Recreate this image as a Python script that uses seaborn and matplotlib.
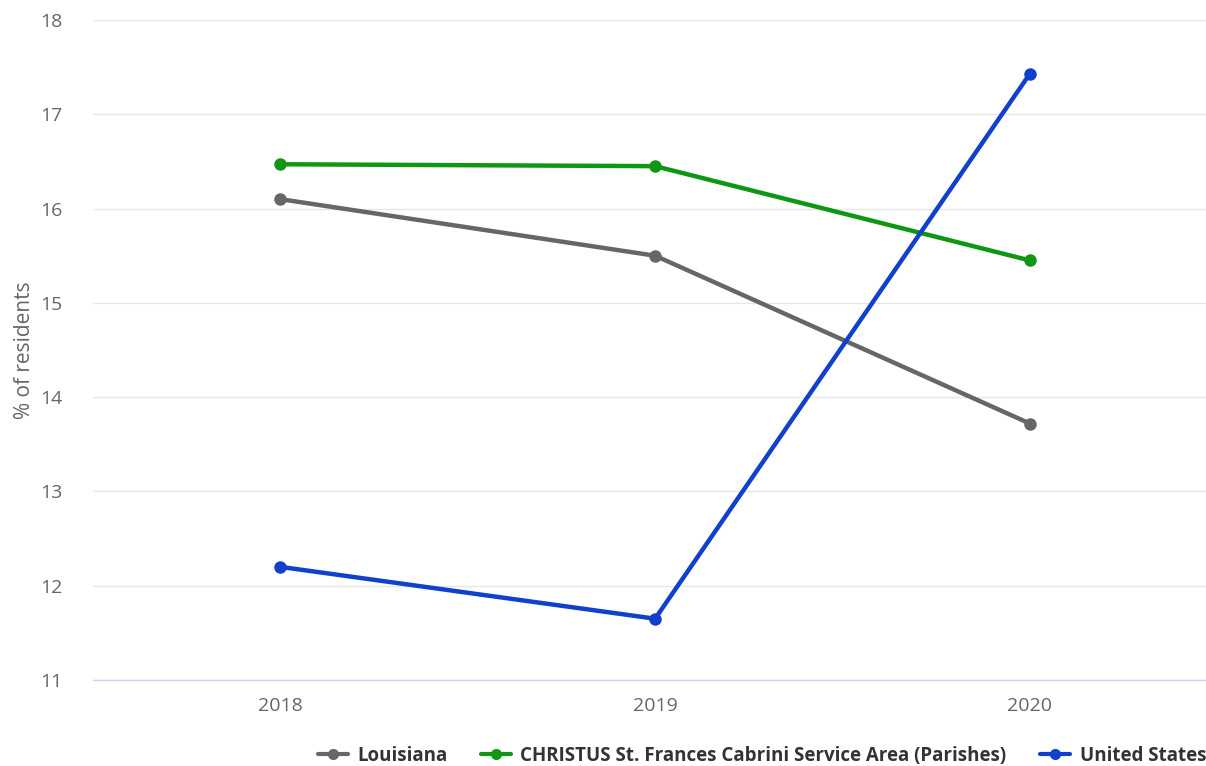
import matplotlib.pyplot as plt
import pandas as pd
import seaborn as sns

# values
years = ["2018", "2019", "2020"]
louisiana = [16.1, 15.5, 13.72]
christus = [16.47, 16.45, 15.45]
united_states = [12.2, 11.65, 17.43]

series_names = ["Louisiana", "CHRISTUS St. Frances Cabrini Service Area (Parishes)", "United States"]
colors = ["#666666", "#0f9614", "#1040cc"]

rows = []
for name, vals in zip(series_names, [louisiana, christus, united_states]):
    for i, v in enumerate(vals):
        rows.append({"pos": i, "year": years[i], "value": v, "series": name})
df = pd.DataFrame(rows)

sns.set_style("white")
plt.rcParams["font.family"] = ["Open Sans", "DejaVu Sans"]

fig = plt.figure(figsize=(12.06, 7.66), dpi=100)
ax = fig.add_axes([93 / 1206, 1 - 680 / 766, 1 - 93 / 1206, 660 / 766])

sns.lineplot(data=df, x="pos", y="value", hue="series", hue_order=series_names,
             palette=colors, marker="o", markersize=9, markeredgewidth=0,
             linewidth=3.2, ax=ax, legend=False, zorder=3)

ax.set_xlim(-0.5, 2.47)
ax.set_ylim(11, 18)
ax.set_xticks(range(len(years)))
ax.set_xticklabels(years)
ax.set_yticks(range(11, 19))
ax.tick_params(axis="both", length=0, labelsize=14, colors="#666666")
ax.tick_params(axis="x", pad=12)
ax.tick_params(axis="y", pad=22)
ax.grid(axis="y", color="#e6e6e6", linewidth=1)
ax.grid(axis="x", visible=False)
for s in ["top", "right", "left"]:
    ax.spines[s].set_visible(False)
ax.spines["bottom"].set_color("#ccd6eb")
ax.spines["bottom"].set_linewidth(1)
ax.set_xlabel("")
ax.set_ylabel("% of residents", fontsize=15, color="#666666", labelpad=4)

handles = [plt.Line2D([], [], color=c, marker="o", markersize=8, linewidth=3, markeredgewidth=0)
           for c in colors]
fig.legend(handles, series_names, loc="lower right", bbox_to_anchor=(1.014, -0.022), ncol=3,
           frameon=False, handlelength=1.6, columnspacing=1.8, handletextpad=0.5,
           prop={"weight": "bold", "size": 13.5}, labelcolor="#333333")

fig.savefig("out.png", dpi=100)
